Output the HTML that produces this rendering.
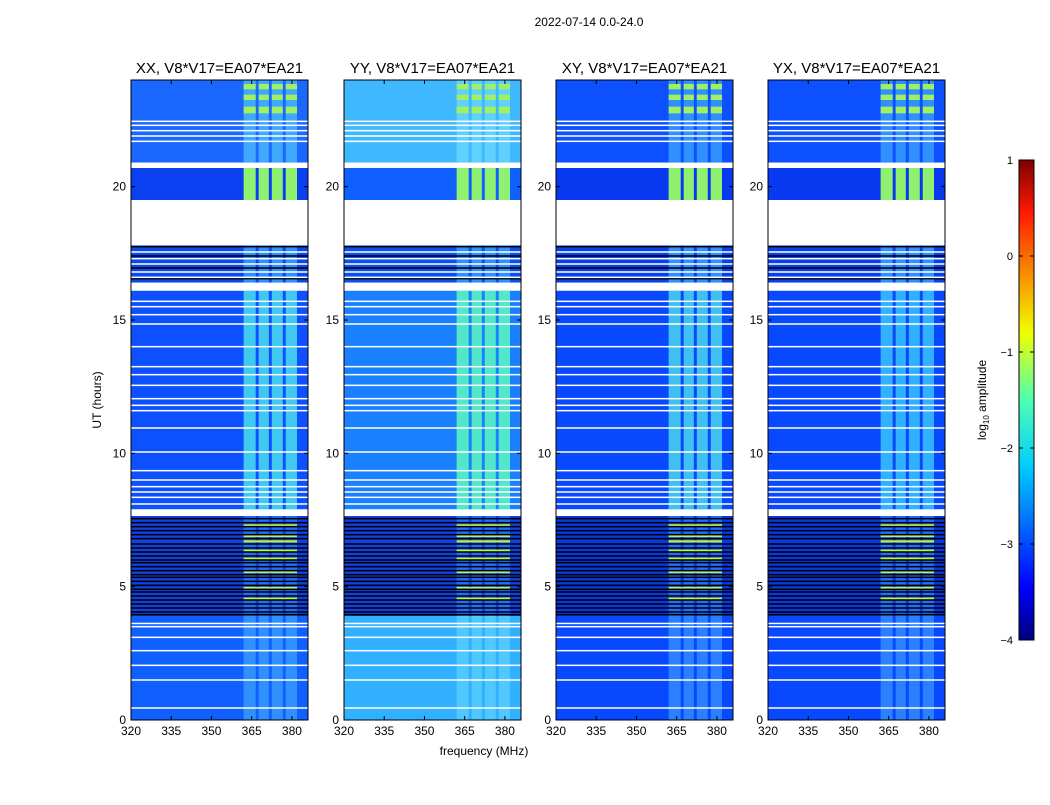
<!DOCTYPE html>
<html><head><meta charset="utf-8"><style>
body{margin:0;background:#fff;width:1050px;height:800px;overflow:hidden;font-family:"Liberation Sans",sans-serif}
svg text{font-family:"Liberation Sans",sans-serif;fill:#000}
</style></head><body>
<svg id="chart" width="1050" height="800">
<defs>
<linearGradient id="jet" x1="0" y1="1" x2="0" y2="0">
<stop offset="0" stop-color="#00007f"/><stop offset="0.11" stop-color="#0000ff"/><stop offset="0.36" stop-color="#00ccff"/><stop offset="0.5" stop-color="#4dffb3"/><stop offset="0.64" stop-color="#f0ff00"/><stop offset="0.89" stop-color="#ff1a00"/><stop offset="1" stop-color="#7f0000"/>
</linearGradient>
</defs>
<text x="589" y="26" font-size="12" text-anchor="middle">2022-07-14 0.0-24.0</text>
<text x="484" y="755" font-size="12" text-anchor="middle">frequency (MHz)</text>
<text transform="translate(101,400) rotate(-90)" font-size="12" text-anchor="middle">UT (hours)</text>
<g id="panels"></g>
<g>
<rect x="1019" y="160" width="15" height="480" fill="url(#jet)" stroke="#000" stroke-width="1"/>
<g id="cbticks"></g>
<text transform="translate(986,400) rotate(-90)" font-size="12" text-anchor="middle">log<tspan font-size="8" dy="3">10</tspan><tspan dy="-3"> amplitude</tspan></text>
</g>
</svg>
<script>
const NS='http://www.w3.org/2000/svg';
const panelTitles=['XX, V8*V17=EA07*EA21','YY, V8*V17=EA07*EA21','XY, V8*V17=EA07*EA21','YX, V8*V17=EA07*EA21'];
const panelX=[131,344,556,768];
const xTicks=[320,335,350,365,380];
const yTicks=[0,5,10,15,20];
const cbTicks=[-4,-3,-2,-1,0,1];
// time segments [start hour, end hour]
const segments=[[0,3.9],[3.9,7.65],[7.9,16.1],[16.4,17.8],[19.5,20.7],[20.9,24]];
// base colour per segment per panel
const segColors=[
 ['#1060ff','#1040e0','#0c50ff','#0a48f0','#0a40f0','#1a68ff'],
 ['#30b0ff','#1040e0','#1a80ff','#0a50f0','#1060ff','#40b8ff'],
 ['#0848ff','#0838e0','#0848ff','#0840f0','#0838f0','#0c50ff'],
 ['#0848ff','#0838e0','#0848ff','#0840f0','#0838f0','#0c50ff']];
// bright sub-bands in MHz
const bands=[[362,366.5],[367.6,371.4],[372.5,376.6],[377.7,381.9]];
const bandGap=[[366.5,367.6],[371.4,372.5],[376.6,377.7]];
// band colour per segment per panel
const bandColors=[
 ['#3090ff','#2070ff','#40c8f0','#3090ff','#90f070','#40a8ff'],
 ['#50c8ff','#2070ff','#50e8c8','#3090ff','#90f070','#60d0ff'],
 ['#2a80ff','#2070ff','#40c0f0','#3090ff','#90f070','#3090ff'],
 ['#2a80ff','#2070ff','#30b0ff','#3090ff','#90f070','#3090ff']];
// bright green blocks near top
const greenBlocks=[[22.75,23.0],[23.25,23.45],[23.65,23.85]];
const greenLines=[4.55,4.95,5.55,6.05,6.35,6.7,6.9,7.3];
const blackLines=[3.95,4.05,4.2,4.35,4.5,4.65,4.8,4.9,5.05,5.2,5.35,5.45,5.6,5.75,5.9,6.0,6.15,6.3,6.45,6.6,6.8,6.95,7.1,7.25,7.4,7.55,16.55,16.95,17.4,17.75];
const whiteLines=[0.45,1.5,2.05,2.6,3.1,3.5,3.62,8.1,8.35,8.55,8.75,9.0,9.35,10.05,10.95,11.6,11.8,12.05,12.55,12.95,13.25,14.0,14.85,15.2,15.5,15.7,16.6,16.8,17.1,17.3,17.55,21.7,21.9,22.1,22.3,22.45];
const whiteGaps=[[7.65,7.9],[16.1,16.4],[17.8,19.5],[20.7,20.9]];
const fMin=320,fMax=386,tMax=24,W=177,Y0=720,Y1=80;
const ty=h=>Y0-(h/tMax)*(Y0-Y1);
const G=document.getElementById('panels');
function mk(tag,attrs,parent){const e=document.createElementNS(NS,tag);for(const k in attrs)e.setAttribute(k,attrs[k]);parent.appendChild(e);return e;}
panelX.forEach((x0,p)=>{
 const fx=f=>x0+(f-fMin)/(fMax-fMin)*W;
 const g=mk('g',{},G);
 
 
 mk('rect',{x:x0,y:Y1,width:W,height:Y0-Y1,fill:'#fff'},g);
 segments.forEach((s,i)=>{
  const r=mk('rect',{x:x0,y:ty(s[1]),width:W,height:ty(s[0])-ty(s[1]),fill:segColors[p][i]},g);
  
  
  bands.forEach(b=>{
   const br=mk('rect',{x:fx(b[0]),y:ty(s[1]),width:fx(b[1])-fx(b[0]),height:ty(s[0])-ty(s[1]),fill:bandColors[p][i]},g);
   
   
  });
 });
 greenBlocks.forEach(gb=>bands.forEach(b=>{
  const r=mk('rect',{x:fx(b[0]),y:ty(gb[1]),width:fx(b[1])-fx(b[0]),height:ty(gb[0])-ty(gb[1]),fill:'#a0f060'},g);
  
  
 }));
 greenLines.forEach(h=>{
  const r=mk('rect',{x:fx(362),y:ty(h)-1,width:fx(381.9)-fx(362),height:2,fill:'#c0f040'},g);
  
  
 });
 blackLines.forEach(h=>{
  const r=mk('rect',{x:x0,y:ty(h)-0.75,width:W,height:1.5,fill:'#000'},g);
  
  
 });
 whiteLines.forEach(h=>{
  const r=mk('rect',{x:x0,y:ty(h)-0.75,width:W,height:1.5,fill:'#fff'},g);
  
  
 });
 whiteGaps.forEach(w=>{
  const r=mk('rect',{x:x0,y:ty(w[1]),width:W,height:ty(w[0])-ty(w[1]),fill:'#fff'},g);
  
  
 });
 mk('rect',{x:x0,y:Y1,width:W,height:Y0-Y1,fill:'none',stroke:'#000','stroke-width':1},g);
 const t=mk('text',{x:x0+W/2,y:73,'font-size':15,'text-anchor':'middle'},g);
 t.textContent=panelTitles[p];
 
 
 xTicks.forEach(f=>{
  const x=fx(f);
  mk('line',{x1:x,x2:x,y1:Y0,y2:Y0-4,stroke:'#000'},g);
  mk('line',{x1:x,x2:x,y1:Y1,y2:Y1+4,stroke:'#000'},g);
  const l=mk('text',{x:x,y:Y0+15,'font-size':12,'text-anchor':'middle'},g);
  l.textContent=f;
  
  
 });
 yTicks.forEach(h=>{
  const y=ty(h);
  mk('line',{x1:x0,x2:x0+4,y1:y,y2:y,stroke:'#000'},g);
  mk('line',{x1:x0+W,x2:x0+W-4,y1:y,y2:y,stroke:'#000'},g);
  const l=mk('text',{x:x0-5,y:y+4,'font-size':12,'text-anchor':'end'},g);
  l.textContent=h;
  
  
 });
});
const cb=document.getElementById('cbticks');
cbTicks.forEach(v=>{
 const y=640-(v+4)/5*480;
 mk('line',{x1:1019,x2:1023,y1:y,y2:y,stroke:'#000'},cb);
 mk('line',{x1:1034,x2:1030,y1:y,y2:y,stroke:'#000'},cb);
 const l=mk('text',{x:1013,y:y+4,'font-size':11,'text-anchor':'end'},cb);
 l.textContent=v<0?'\u2212'+(-v):v;
 
 
});
</script>
</body></html>
